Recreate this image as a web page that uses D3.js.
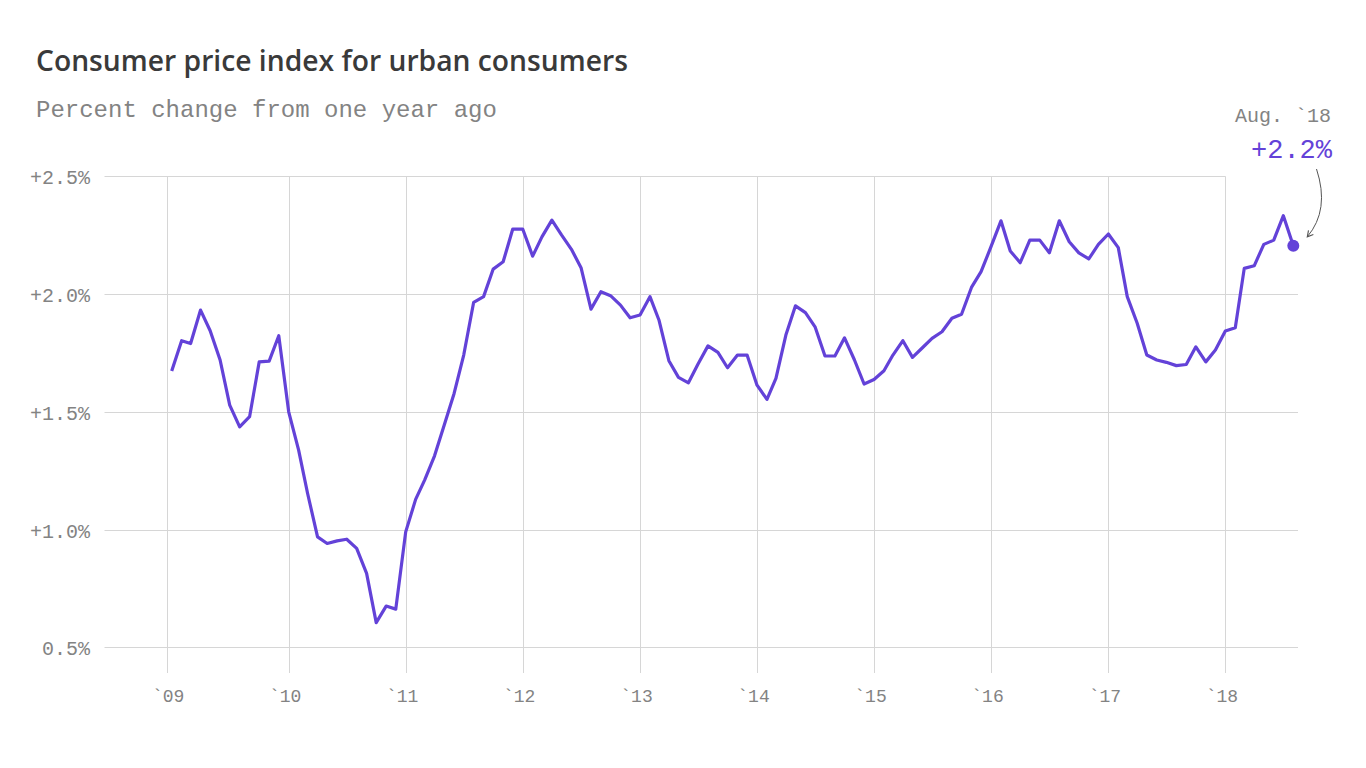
<!DOCTYPE html>
<html>
<head>
<meta charset="utf-8">
<script src="https://cdn.jsdelivr.net/npm/d3@7"></script>
<style>
  html, body { margin: 0; padding: 0; background: #fff; }
  svg { display: block; }
</style>
</head>
<body>
<svg id="chart" width="1366" height="768"></svg>
<script>
// ---- data ----
const startMonth = "2009-01";
const cpiValues = [
  // 2009
  1.673, 1.802, 1.790, 1.932, 1.844, 1.720, 1.528, 1.436, 1.479, 1.712, 1.715, 1.823,
  // 2010
  1.500, 1.337, 1.153, 0.969, 0.941, 0.952, 0.959, 0.920, 0.814, 0.605, 0.675, 0.662,
  // 2011
  0.990, 1.128, 1.210, 1.313, 1.443, 1.578, 1.741, 1.965, 1.989, 2.106, 2.137, 2.276,
  // 2012
  2.276, 2.161, 2.243, 2.314, 2.251, 2.190, 2.112, 1.936, 2.010, 1.993, 1.953, 1.899,
  // 2013
  1.911, 1.989, 1.890, 1.717, 1.646, 1.623, 1.703, 1.780, 1.752, 1.687, 1.741, 1.741,
  // 2014
  1.613, 1.553, 1.642, 1.826, 1.950, 1.921, 1.861, 1.737, 1.737, 1.814, 1.720, 1.618,
  // 2015
  1.637, 1.674, 1.741, 1.802, 1.731, 1.772, 1.812, 1.840, 1.897, 1.914, 2.028, 2.095,
  // 2016
  2.201, 2.311, 2.183, 2.133, 2.229, 2.229, 2.175, 2.311, 2.222, 2.175, 2.149, 2.211,
  // 2017
  2.255, 2.197, 1.989, 1.876, 1.741, 1.720, 1.710, 1.696, 1.701, 1.776, 1.712, 1.762,
  // 2018
  1.843, 1.857, 2.109, 2.120, 2.211, 2.229, 2.333, 2.205
];
const yearTicks = [2009, 2010, 2011, 2012, 2013, 2014, 2015, 2016, 2017, 2018];
const yearLabels = ["`09", "`10", "`11", "`12", "`13", "`14", "`15", "`16", "`17", "`18"];
const yTicks = [0.5, 1.0, 1.5, 2.0, 2.5];
const yTickLabels = ["0.5%", "+1.0%", "+1.5%", "+2.0%", "+2.5%"];
const titleText = "Consumer price index for urban consumers";
const subtitleText = "Percent change from one year ago";
const annoDate = "Aug. `18";
const annoValue = "+2.2%";

// ---- build ----
const parseMonth = d3.timeParse("%Y-%m");
const t0 = parseMonth(startMonth);
const data = cpiValues.map((v, i) => ({ date: d3.timeMonth.offset(t0, i), value: v }));

const svg = d3.select("#chart");
const purple = "#6342d8";
const gridColor = "#d6d6d6";
const textGray = "#838383";
const mono = "'Liberation Mono', 'Courier New', monospace";

const x = d3.scaleTime()
  .domain([data[0].date, data[data.length - 1].date])
  .range([171.7, 1293.3]);
const y = d3.scaleLinear().domain([0.5, 2.5]).range([647.3, 176.3]);

const gridLeft = 104.5, gridRight = 1298, gridBottom = 673;

// horizontal grid
svg.append("g").selectAll("line").data(yTicks).join("line")
  .attr("x1", gridLeft)
  .attr("x2", d => d === 2.5 ? x(new Date(2018, 0, 1)) : gridRight)
  .attr("y1", d => Math.round(y(d)) + 0.5)
  .attr("y2", d => Math.round(y(d)) + 0.5)
  .attr("stroke", gridColor).attr("stroke-width", 1);

// vertical grid (first year line sits half a month before the first point)
const gridX = yr => yr === 2009 ? x(new Date(2008, 11, 16)) : x(new Date(yr, 0, 1));
svg.append("g").selectAll("line").data(yearTicks).join("line")
  .attr("x1", d => Math.round(gridX(d)) + 0.5)
  .attr("x2", d => Math.round(gridX(d)) + 0.5)
  .attr("y1", y(2.5)).attr("y2", gridBottom)
  .attr("stroke", gridColor).attr("stroke-width", 1);

// y labels
svg.append("g").selectAll("text").data(yTicks).join("text")
  .attr("x", 90).attr("y", d => y(d) + 8)
  .attr("text-anchor", "end")
  .attr("font-family", mono).attr("font-size", 20)
  .attr("fill", textGray)
  .text((d, i) => yTickLabels[i]);

// x labels
svg.append("g").selectAll("text").data(yearTicks).join("text")
  .attr("x", d => x(new Date(d, 0, 1)) - 3.5).attr("y", 702)
  .attr("text-anchor", "middle")
  .attr("font-family", mono).attr("font-size", 18)
  .attr("fill", textGray)
  .text((d, i) => yearLabels[i]);

// line
const line = d3.line().x(d => x(d.date)).y(d => y(d.value));
svg.append("path").datum(data)
  .attr("d", line)
  .attr("fill", "none").attr("stroke", purple)
  .attr("stroke-width", 3.2).attr("stroke-linejoin", "round");

// last point
const last = data[data.length - 1];
svg.append("circle")
  .attr("cx", x(last.date)).attr("cy", y(last.value))
  .attr("r", 6).attr("fill", purple);

// title & subtitle
const title = svg.append("text")
  .attr("x", 36).attr("y", 71)
  .attr("font-family", "'Open Sans', sans-serif").attr("font-weight", 600)
  .attr("font-size", 26).attr("fill", "#3a3a3a")
  .text(titleText);
// fit title width to reference
const tw = title.node().getComputedTextLength();
title.attr("font-size", 26 * 592 / tw);

svg.append("text")
  .attr("x", 36).attr("y", 117)
  .attr("font-family", mono).attr("font-size", 24)
  .attr("fill", textGray)
  .text(subtitleText);

// annotation
svg.append("text")
  .attr("x", 1331).attr("y", 122)
  .attr("text-anchor", "end")
  .attr("font-family", mono).attr("font-size", 20)
  .attr("fill", textGray)
  .text(annoDate);
svg.append("text")
  .attr("x", 1332).attr("y", 158)
  .attr("text-anchor", "end")
  .attr("font-family", mono).attr("font-size", 27)
  .attr("fill", purple)
  .text(annoValue);

// arrow
const defs = svg.append("defs");
defs.append("marker")
  .attr("id", "arrowhead")
  .attr("viewBox", "0 0 10 10")
  .attr("refX", 8).attr("refY", 5)
  .attr("markerWidth", 8).attr("markerHeight", 8)
  .attr("markerUnits", "userSpaceOnUse")
  .attr("orient", "auto")
  .append("path")
  .attr("d", "M1,1 L8,5 L1,9")
  .attr("fill", "none").attr("stroke", "#555").attr("stroke-width", 1.4);

const ax = x(last.date), ay = y(last.value);
svg.append("path")
  .attr("d", `M1316.5,169 Q1330,210 ${ax + 14},${ay - 9}`)
  .attr("fill", "none").attr("stroke", "#555").attr("stroke-width", 1)
  .attr("marker-end", "url(#arrowhead)");
</script>
</body>
</html>
